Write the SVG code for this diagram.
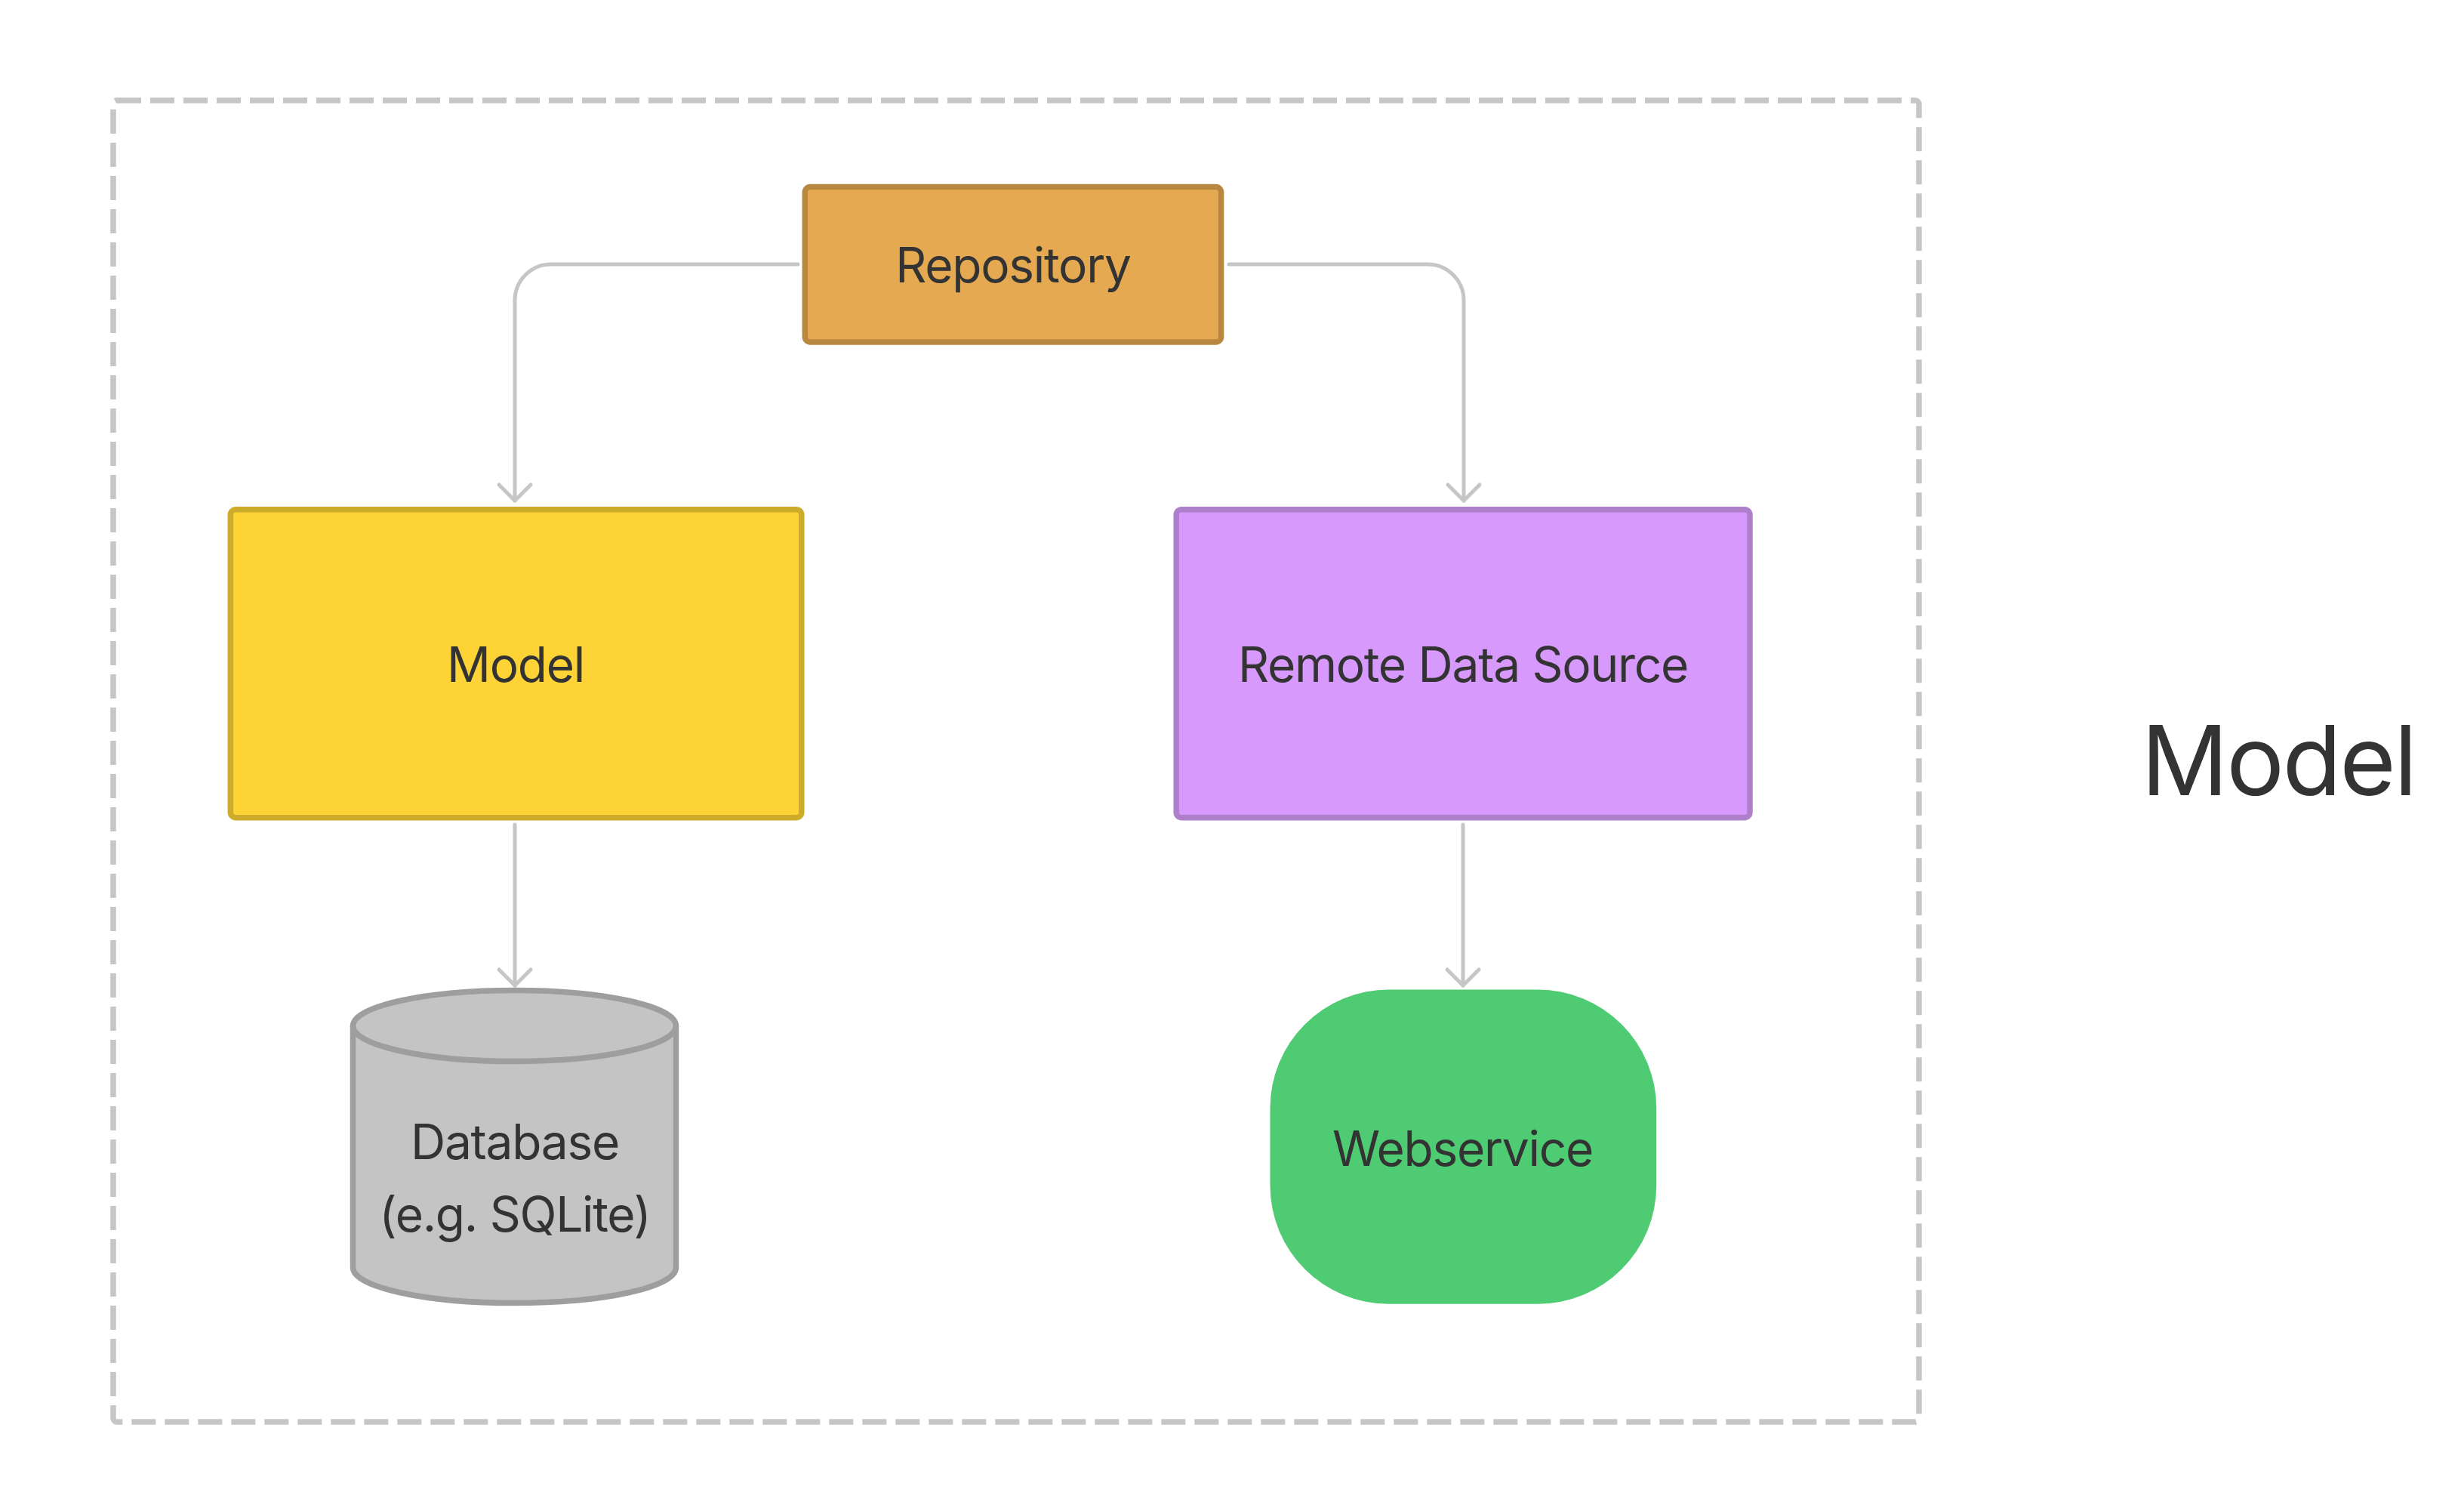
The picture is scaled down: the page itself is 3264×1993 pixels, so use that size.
<svg xmlns="http://www.w3.org/2000/svg" width="3264" height="1993" viewBox="0 0 3264 1993">
<defs>
<style>
.lbl{font-family:Inter,"Liberation Sans",sans-serif;fill:#333333;text-anchor:middle;font-size:64px;letter-spacing:-0.02em}
.big{font-family:Inter,"Liberation Sans",sans-serif;fill:#333333;text-anchor:middle;font-size:128px;letter-spacing:-0.02em}
.edge{fill:none;stroke:#c6c6c6;stroke-width:5;stroke-linecap:round;stroke-linejoin:round;marker-end:url(#arr)}
</style>
<marker id="arr" markerUnits="userSpaceOnUse" viewBox="-26 -26 30 52" refX="0" refY="0" markerWidth="30" markerHeight="52" orient="auto">
<path d="M -21 -21 L 0 0 L -21 21" fill="none" stroke="#c6c6c6" stroke-width="5" stroke-linecap="round" stroke-linejoin="round"/>
</marker>
</defs>
<rect width="3264" height="1993" fill="#ffffff"/>
<g id="frame">
<rect x="150" y="133" width="2392" height="1750" rx="5" fill="none" stroke="#c6c6c6" stroke-width="7.5" stroke-dasharray="32 12"/>
</g>
<g id="connectors">
<path class="edge" d="M 1057 350 H 730 A 48 48 0 0 0 682 398 V 663"/>
<path class="edge" d="M 1628 350 H 1891 A 48 48 0 0 1 1939 398 V 663"/>
<path class="edge" d="M 682 1092 V 1305"/>
<path class="edge" d="M 1938 1092 V 1305"/>
</g>
<g id="repository">
<rect x="1066.3" y="247.5" width="551.3" height="205.4" rx="7" fill="#e4a951" stroke="#b88740" stroke-width="7.5"/>
<text class="lbl" x="1342" y="374">Repository</text>
</g>
<g id="model">
<rect x="305.3" y="674.7" width="756.5" height="408" rx="7" fill="#fdd335" stroke="#cdab2b" stroke-width="7.5"/>
<text class="lbl" x="683" y="903">Model</text>
</g>
<g id="remote">
<rect x="1558.2" y="674.7" width="759.8" height="408" rx="7" fill="#d899fd" stroke="#ae80cc" stroke-width="7.5"/>
<text class="lbl" x="1938" y="903">Remote Data Source</text>
</g>
<g id="database">
<path d="M 467.5 1358.5 A 214 47 0 0 1 895.5 1358.5 V 1678.5 A 214 47 0 0 1 467.5 1678.5 Z" fill="#c4c4c4" stroke="#9e9e9e" stroke-width="7.5"/>
<path d="M 467.5 1358.5 A 214 47 0 0 0 895.5 1358.5" fill="none" stroke="#9e9e9e" stroke-width="7.5"/>
<text class="lbl" x="682" y="1535">Database</text>
<text class="lbl" x="682" y="1631">(e.g. SQLite)</text>
</g>
<g id="webservice">
<rect x="1682.5" y="1310.5" width="511.7" height="416.3" rx="157" fill="#4fcb73"/>
<text class="lbl" x="1937.5" y="1543.5">Webservice</text>
</g>
<g id="title">
<text class="big" x="3018" y="1053">Model</text>
</g>
</svg>
